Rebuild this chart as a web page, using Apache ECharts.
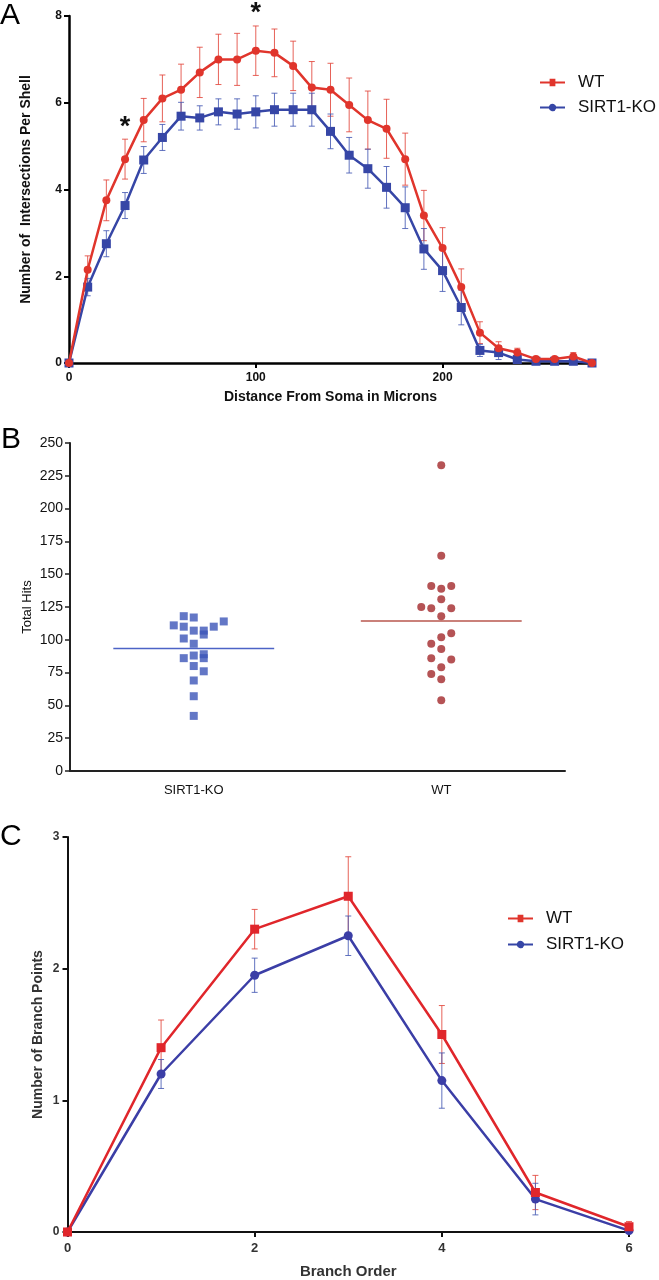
<!DOCTYPE html>
<html>
<head>
<meta charset="utf-8">
<script src="https://cdn.jsdelivr.net/npm/echarts@6.0.0/dist/echarts.min.js"></script>
<style>
html,body{margin:0;padding:0;background:#fff;}
#chart{width:659px;height:1280px;}
</style>
</head>
<body>
<div id="chart"></div>
<script>
// ---------- Panel A: Sholl analysis ----------
const distances = [0,10,20,30,40,50,60,70,80,90,100,110,120,130,140,150,160,170,180,190,200,210,220,230,240,250,260,270,280];
const wtIntersections = [0,2.15,3.75,4.70,5.60,6.10,6.30,6.70,7.00,7.00,7.20,7.15,6.85,6.35,6.30,5.95,5.60,5.40,4.70,3.40,2.65,1.75,0.70,0.34,0.24,0.09,0.09,0.15,0];
const wtIntersectionsErr = [0,0.32,0.47,0.46,0.50,0.54,0.59,0.58,0.58,0.60,0.57,0.55,0.57,0.60,0.61,0.62,0.67,0.68,0.60,0.58,0.47,0.42,0.25,0.15,0.10,0.03,0.03,0.09,0];
const koIntersections = [0,1.75,2.75,3.63,4.68,5.20,5.69,5.65,5.79,5.74,5.79,5.84,5.84,5.84,5.34,4.79,4.48,4.05,3.58,2.63,2.13,1.28,0.29,0.24,0.08,0.04,0.04,0.04,0];
const koIntersectionsErr = [0,0.20,0.30,0.30,0.31,0.30,0.32,0.28,0.30,0.35,0.37,0.38,0.38,0.38,0.40,0.41,0.45,0.48,0.48,0.47,0.48,0.40,0.14,0.16,0.05,0.02,0.02,0.02,0];
const distanceTickLabels = [0,100,200];
const significantDistances = [30,100];

// ---------- Panel B: total hits ----------
const hitGroups = ['SIRT1-KO','WT'];
const koHits = [118,117,111,110,114,110,107,107,104,101,97,86,88,89,86,80,76,69,57,42];
const koHitSlots = [-1,0,-2,-1,3,2,0,1,1,-1,0,-1,0,1,1,0,1,0,0,0];
const wtHits = [233,164,141,141,139,131,125,124,124,118,105,102,97,93,86,85,79,74,70,54];
const wtHitSlots = [0,0,-1,1,0,0,-2,-1,1,0,1,0,-1,0,-1,1,0,-1,0,0];

// ---------- Panel C: branch points ----------
const branchOrder = [0,1,2,3,4,5,6];
const wtBranch = [0,1.40,2.30,2.55,1.50,0.30,0.04];
const wtBranchErr = [0,0.21,0.15,0.30,0.22,0.13,0.04];
const koBranch = [0,1.20,1.95,2.25,1.15,0.25,0.01];
const koBranchErr = [0,0.11,0.13,0.15,0.21,0.12,0.02];

// ---------- styling ----------
const FONT = '"Liberation Sans", Arial, Helvetica, sans-serif';
const RED = '#e0352c', BLUE = '#3646a6';
const RED_ERR = 'rgba(226,70,60,0.85)', BLUE_ERR = 'rgba(70,90,180,0.85)';
const RED_C = '#e0262b', BLUE_C = '#3b3ea6';
const SLOT_PX = 10;

const pairs = (xs, ys) => xs.map((x, i) => [x, ys[i]]);
const errData = (xs, ys, es) => xs.map((x, i) => [x, ys[i] - es[i], ys[i] + es[i]]);
const mean = a => a.reduce((s, v) => s + v, 0) / a.length;

function errRender(cap) {
  return function (params, api) {
    const x = api.value(0), lo = api.value(1), hi = api.value(2);
    if (hi - lo <= 0) return null;
    const p1 = api.coord([x, hi]), p2 = api.coord([x, lo]);
    const color = api.visual('color');
    const st = { stroke: color, lineWidth: 1 };
    return {
      type: 'group',
      children: [
        { type: 'line', shape: { x1: p1[0], y1: p1[1], x2: p2[0], y2: p2[1] }, style: st },
        { type: 'line', shape: { x1: p1[0] - cap, y1: p1[1], x2: p1[0] + cap, y2: p1[1] }, style: st },
        { type: 'line', shape: { x1: p2[0] - cap, y1: p2[1], x2: p2[0] + cap, y2: p2[1] }, style: st }
      ]
    };
  };
}

function meanRender(params, api) {
  const c = api.coord([api.value(0), api.value(1)]);
  const w = api.size([1, 0])[0] * 0.65;
  return {
    type: 'line',
    shape: { x1: c[0] - w / 2, y1: c[1], x2: c[0] + w / 2, y2: c[1] },
    style: { stroke: api.visual('color'), lineWidth: 1.5 }
  };
}

const SQ_ICON = 'path://M0,4 L10,4 L10,1 L16,1 L16,4 L26,4 L26,6 L16,6 L16,9 L10,9 L10,6 L0,6 Z';
const CI_ICON = 'path://M0,4 L9.2,4 A4,4 0 0 1 16.8,4 L26,4 L26,6 L16.8,6 A4,4 0 0 1 9.2,6 L0,6 Z';

const boldAxisLabel = { fontFamily: FONT, fontWeight: 'bold', fontSize: 12, color: '#111' };

const option = {
  backgroundColor: '#fff',
  animation: false,
  textStyle: { fontFamily: FONT },
  graphic: [
    { type: 'text', left: 0, top: 1, style: { text: 'A', fontSize: 30, fontFamily: FONT, fill: '#000' } },
    { type: 'text', left: 1, top: 425, style: { text: 'B', fontSize: 30, fontFamily: FONT, fill: '#000' } },
    { type: 'text', left: 0, top: 822, style: { text: 'C', fontSize: 30, fontFamily: FONT, fill: '#000' } }
  ],
  legend: [
    {
      orient: 'vertical', left: 535, top: 69, itemWidth: 25, itemHeight: 10, itemGap: 8,
      selectedMode: false,
      data: [{ name: 'WT', icon: SQ_ICON }, { name: 'SIRT1-KO', icon: CI_ICON }],
      textStyle: { fontFamily: FONT, fontSize: 17, color: '#111', padding: [0, 0, 0, 8] }
    },
    {
      orient: 'vertical', left: 503, top: 905, itemWidth: 25, itemHeight: 10, itemGap: 9,
      selectedMode: false,
      data: [{ name: 'WT', icon: SQ_ICON }, { name: 'SIRT1-KO', icon: CI_ICON }],
      textStyle: { fontFamily: FONT, fontSize: 17, color: '#111', padding: [0, 0, 0, 8] }
    }
  ],
  grid: [
    { left: 69, right: 67, top: 16, bottom: 917 },
    { left: 70, right: 94, top: 443, bottom: 509 },
    { left: 67.5, right: 30, top: 837, bottom: 47.5 }
  ],
  xAxis: [
    {
      gridIndex: 0, type: 'value', min: 0, max: 280,
      axisLine: { lineStyle: { color: '#000', width: 2.5 } },
      axisTick: { customValues: distanceTickLabels, length: 5, lineStyle: { color: '#000', width: 2 } },
      axisLabel: Object.assign({ customValues: distanceTickLabels, margin: 9 }, boldAxisLabel),
      splitLine: { show: false },
      name: 'Distance From Soma in Microns', nameLocation: 'middle', nameGap: 27,
      nameTextStyle: { fontFamily: FONT, fontWeight: 'bold', fontSize: 14, color: '#111' }
    },
    {
      gridIndex: 1, type: 'category', data: hitGroups,
      axisLine: { lineStyle: { color: '#222', width: 2 } },
      axisTick: { alignWithLabel: true, length: 5, lineStyle: { color: '#222', width: 1.5 } },
      axisLabel: { fontFamily: FONT, fontSize: 13, color: '#111', margin: 13 },
      splitLine: { show: false }
    },
    {
      gridIndex: 2, type: 'value', min: 0, max: 6, interval: 2,
      axisLine: { lineStyle: { color: '#111', width: 2 } },
      axisTick: { length: 5, lineStyle: { color: '#111', width: 2 } },
      axisLabel: { fontFamily: FONT, fontWeight: 'bold', fontSize: 13, color: '#333', margin: 10 },
      splitLine: { show: false },
      name: 'Branch Order', nameLocation: 'middle', nameGap: 32,
      nameTextStyle: { fontFamily: FONT, fontWeight: 'bold', fontSize: 15, color: '#333' }
    }
  ],
  yAxis: [
    {
      gridIndex: 0, type: 'value', min: 0, max: 8, interval: 2,
      axisLine: { show: true, lineStyle: { color: '#000', width: 2.5 } },
      axisTick: { show: true, length: 5, lineStyle: { color: '#000', width: 2 } },
      axisLabel: Object.assign({ margin: 7 }, boldAxisLabel),
      splitLine: { show: false },
      name: 'Number of  Intersections Per Shell', nameLocation: 'middle', nameGap: 36,
      nameMoveOverlap: false,
      nameTextStyle: { fontFamily: FONT, fontWeight: 'bold', fontSize: 14, color: '#111' }
    },
    {
      gridIndex: 1, type: 'value', min: 0, max: 250, interval: 25,
      axisLine: { show: true, lineStyle: { color: '#222', width: 2 } },
      axisTick: { show: true, length: 5, lineStyle: { color: '#222', width: 1.5 } },
      axisLabel: { fontFamily: FONT, fontSize: 14, color: '#111', margin: 7 },
      splitLine: { show: false },
      name: 'Total Hits', nameLocation: 'middle', nameGap: 36,
      nameMoveOverlap: false,
      nameTextStyle: { fontFamily: FONT, fontSize: 13, color: '#111' }
    },
    {
      gridIndex: 2, type: 'value', min: 0, max: 3, interval: 1,
      axisLine: { show: true, lineStyle: { color: '#111', width: 2 } },
      axisTick: { show: true, length: 5, lineStyle: { color: '#111', width: 2 } },
      axisLabel: { fontFamily: FONT, fontWeight: 'bold', fontSize: 12, color: '#333', margin: 8 },
      splitLine: { show: false },
      name: 'Number of Branch Points', nameLocation: 'middle', nameGap: 22,
      nameMoveOverlap: false,
      nameTextStyle: { fontFamily: FONT, fontWeight: 'bold', fontSize: 14, color: '#333' }
    }
  ],
  series: [
    // Panel A
    {
      name: 'WT', type: 'line', xAxisIndex: 0, yAxisIndex: 0, z: 4,
      data: pairs(distances, wtIntersections),
      symbol: 'circle', symbolSize: 8, showSymbol: true,
      lineStyle: { color: RED, width: 2.5 }, itemStyle: { color: RED },
      markPoint: {
        symbol: 'rect', symbolSize: 1, itemStyle: { color: 'rgba(0,0,0,0)' },
        label: { show: true, formatter: '*', position: 'inside', offset: [0, -12], fontFamily: FONT, fontWeight: 'bold', fontSize: 27, color: '#111' },
        data: significantDistances.map(d => {
          const i = distances.indexOf(d);
          return { coord: [d, wtIntersections[i] + wtIntersectionsErr[i]] };
        })
      }
    },
    {
      name: 'SIRT1-KO', type: 'line', xAxisIndex: 0, yAxisIndex: 0, z: 3,
      data: pairs(distances, koIntersections),
      symbol: 'rect', symbolSize: 9, showSymbol: true,
      lineStyle: { color: BLUE, width: 2.5 }, itemStyle: { color: BLUE }
    },
    {
      name: 'WT err A', type: 'custom', xAxisIndex: 0, yAxisIndex: 0, z: 2,
      itemStyle: { color: RED_ERR }, renderItem: errRender(3),
      data: errData(distances, wtIntersections, wtIntersectionsErr)
    },
    {
      name: 'KO err A', type: 'custom', xAxisIndex: 0, yAxisIndex: 0, z: 2,
      itemStyle: { color: BLUE_ERR }, renderItem: errRender(3),
      data: errData(distances, koIntersections, koIntersectionsErr)
    },
    // Panel B
    {
      name: 'KO hits', type: 'scatter', xAxisIndex: 1, yAxisIndex: 1,
      symbol: 'rect', symbolSize: 8, itemStyle: { color: '#3c55b8' },
      data: koHits.map((v, i) => ({ value: [0, v], symbolOffset: [koHitSlots[i] * SLOT_PX, 0] }))
    },
    {
      name: 'WT hits', type: 'scatter', xAxisIndex: 1, yAxisIndex: 1,
      symbol: 'circle', symbolSize: 8, itemStyle: { color: '#a3282a' },
      data: wtHits.map((v, i) => ({ value: [1, v], symbolOffset: [wtHitSlots[i] * SLOT_PX, 0] }))
    },
    {
      name: 'Means', type: 'custom', xAxisIndex: 1, yAxisIndex: 1, renderItem: meanRender,
      data: [
        { value: [0, mean(koHits)], itemStyle: { color: '#4d63c6' } },
        { value: [1, mean(wtHits)], itemStyle: { color: '#b8574e' } }
      ]
    },
    // Panel C
    {
      name: 'WT', type: 'line', xAxisIndex: 2, yAxisIndex: 2, z: 4,
      data: pairs(branchOrder, wtBranch),
      symbol: 'rect', symbolSize: 9, showSymbol: true,
      lineStyle: { color: RED_C, width: 2.5 }, itemStyle: { color: RED_C }
    },
    {
      name: 'SIRT1-KO', type: 'line', xAxisIndex: 2, yAxisIndex: 2, z: 3,
      data: pairs(branchOrder, koBranch),
      symbol: 'circle', symbolSize: 9, showSymbol: true,
      lineStyle: { color: BLUE_C, width: 2.5 }, itemStyle: { color: BLUE_C }
    },
    {
      name: 'WT err C', type: 'custom', xAxisIndex: 2, yAxisIndex: 2, z: 2,
      itemStyle: { color: RED_ERR }, renderItem: errRender(3),
      data: errData(branchOrder, wtBranch, wtBranchErr)
    },
    {
      name: 'KO err C', type: 'custom', xAxisIndex: 2, yAxisIndex: 2, z: 2,
      itemStyle: { color: BLUE_ERR }, renderItem: errRender(3),
      data: errData(branchOrder, koBranch, koBranchErr)
    }
  ]
};

const chart = echarts.init(document.getElementById('chart'), null, { renderer: 'canvas', width: 659, height: 1280 });
chart.setOption(option);
</script>
</body>
</html>
